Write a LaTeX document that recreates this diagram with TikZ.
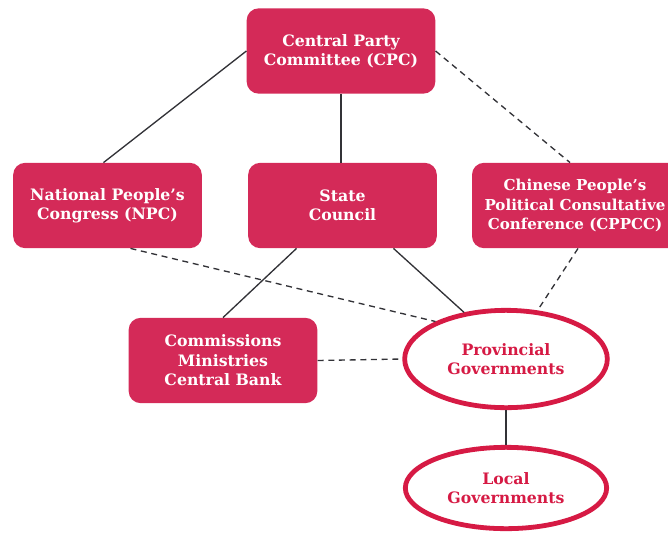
\documentclass[tikz,border=0pt]{standalone}
\usepackage{fontspec}
\setmainfont{DejaVu Serif}
\usetikzlibrary{shapes.geometric,calc}
\definecolor{boxred}{RGB}{212,42,88}
\definecolor{ellred}{RGB}{214,26,68}
\definecolor{linegray}{RGB}{50,50,55}
\begin{document}
\begin{tikzpicture}[x=0.75pt,y=-0.75pt,
  box/.style={rectangle,rounded corners=9pt,fill=boxred,text=white,
    minimum width=141.5pt,minimum height=64pt,inner sep=0pt,align=center,
    font=\bfseries\fontsize{11.8}{14.6}\selectfont},
  oval/.style={ellipse,draw=ellred,line width=3.6pt,fill=white,text=ellred,
    inner sep=0pt,align=center,font=\bfseries\fontsize{11.8}{14.6}\selectfont},
  conn/.style={draw=linegray,line width=1pt},
  dconn/.style={conn,dash pattern=on 4.5pt off 3.5pt}]
\useasboundingbox (0,0) rectangle (668,533);
\begin{scope}
\clip (0,0) rectangle (668,533);
\node[box] (cpc) at (341,51) {Central Party\\Committee (CPC)};
\node[box] (npc) at (107.5,205.5) {National People’s\\Congress (NPC)};
\node[box] (state) at (342.5,205.5) {State\\Council};
\node[box,minimum width=157.5pt,font=\bfseries\fontsize{11.3}{14.4}\selectfont] (cppcc) at (577,205.5) {};
\node[text=white,align=center,inner sep=0pt,font=\bfseries\fontsize{11.3}{14.4}\selectfont] (cppcctext) at (575,205.5) {Chinese People’s\\Political Consultative\\Conference (CPPCC)};
\node[box] (comm) at (223,360.5) {Commissions\\Ministries\\Central Bank};
\node[oval,minimum width=152pt,minimum height=73pt] (prov) at (506,359) {Provincial\\Governments};
\node[oval,minimum width=151pt,minimum height=61pt] (local) at (506,488) {Local\\Governments};
\end{scope}
\draw[conn] (cpc.west) -- ($(npc.north)+(-4,0)$);
\draw[conn] (cpc.south) -- (cpc.south |- state.north);
\draw[dconn] (cpc.east) -- ($(cppcc.north)+(-7,0)$);
\draw[dconn] ($(npc.south)+(23,0)$) -- (prov.152);
\draw[conn] ($(state.south)+(-46,0)$) -- (comm.north);
\draw[conn] ($(state.south)+(51,0)$) -- (prov.132);
\draw[dconn] ($(cppcc.south)+(1,0)$) -- (prov.57);
\draw[dconn] (comm.east) -- (prov.west);
\draw[conn] (prov.south) -- (local.north);
\end{tikzpicture}
\end{document}
